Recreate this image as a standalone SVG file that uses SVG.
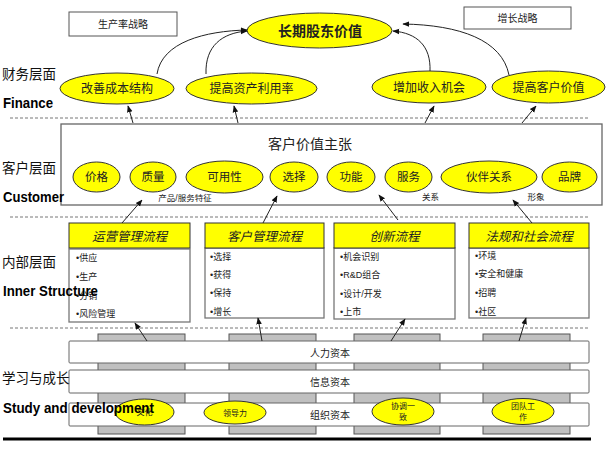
<svg xmlns="http://www.w3.org/2000/svg" width="606" height="455" viewBox="0 0 606 455">
<defs>
<marker id="ah" viewBox="0 0 10 10" refX="9" refY="5" markerWidth="7" markerHeight="7" orient="auto" markerUnits="userSpaceOnUse">
<path d="M0,1 L10,5 L0,9 z" fill="#111"/>
</marker>
<style>
text{font-family:"Liberation Serif","Noto Sans CJK SC",serif;fill:#222}
.sans{font-family:"Liberation Sans","Noto Sans CJK SC",sans-serif}
.en{font-family:"Liberation Sans",sans-serif;font-weight:bold;font-size:15px;fill:#000}
.side{font-size:13.5px;fill:#111}
.ell{fill:#ffff00;stroke:#333;stroke-width:1}
.et{font-size:12px;text-anchor:middle}
.ct{font-size:11.5px;text-anchor:middle}
.small{font-size:8.5px;text-anchor:middle}
.dash{stroke:#777;stroke-width:1;stroke-dasharray:3,2;fill:none}
.hdr{fill:#ffff00;stroke:#333;stroke-width:1}
.ht{font-size:12.5px;font-style:italic;text-anchor:middle}
.body{fill:#fff;stroke:#777;stroke-width:1.3}
.bt{font-size:9px}
.bar{fill:#fff;stroke:#666;stroke-width:1}
.peg{fill:#c0c0c0;stroke:#555;stroke-width:1}
.bl{font-size:10px;text-anchor:middle}
.tb{fill:#fff;stroke:#555;stroke-width:1}
.arr{fill:none;stroke:#222;stroke-width:1;marker-end:url(#ah)}
</style>
</defs>
<rect width="606" height="455" fill="#fff"/>

<g id="separators">
<line class="dash" x1="10" y1="118" x2="590" y2="118"/>
<line class="dash" x1="10" y1="217" x2="590" y2="217"/>
<line class="dash" x1="10" y1="328" x2="590" y2="328"/>
<line x1="3" y1="439" x2="591" y2="439" stroke="#000" stroke-width="3"/>
</g>

<g id="strategy-boxes">
<g id="productivity"><rect class="tb" x="69" y="12" width="108" height="24"/><text class="sans" x="123" y="28" font-size="10" text-anchor="middle">生产率战略</text></g>
<g id="growth"><rect class="tb" x="464" y="7" width="107" height="22"/><text class="sans" x="517.5" y="22" font-size="10" text-anchor="middle">增长战略</text></g>
</g>

<g id="finance">
<g id="shareholder"><ellipse class="ell" cx="319.5" cy="30.5" rx="72.5" ry="17.5"/><text x="320" y="35.5" font-size="14" font-weight="bold" text-anchor="middle">长期股东价值</text></g>
<g id="cost"><ellipse class="ell" cx="117" cy="88.5" rx="57" ry="15.5"/><text class="et" x="117" y="93">改善成本结构</text></g>
<g id="asset"><ellipse class="ell" cx="251.5" cy="88.5" rx="65.5" ry="15.5"/><text class="et" x="251.5" y="93">提高资产利用率</text></g>
<g id="revenue"><ellipse class="ell" cx="429" cy="87" rx="57" ry="16"/><text class="et" x="429" y="91.5">增加收入机会</text></g>
<g id="custvalue"><ellipse class="ell" cx="548.5" cy="87" rx="56.5" ry="16"/><text class="et" x="548.5" y="91.5">提高客户价值</text></g>
</g>

<g id="customer">
<rect fill="#fff" stroke="#666" stroke-width="1.3" x="61" y="124" width="541" height="81"/>
<text x="310" y="149" font-size="14" text-anchor="middle">客户价值主张</text>
<g id="c-price"><ellipse class="ell" cx="96.5" cy="177" rx="23.5" ry="15"/><text class="ct" x="96.5" y="181">价格</text></g>
<g id="c-quality"><ellipse class="ell" cx="153" cy="177" rx="23" ry="15"/><text class="ct" x="153" y="181">质量</text></g>
<g id="c-avail"><ellipse class="ell" cx="224.5" cy="177" rx="38.5" ry="16"/><text class="ct" x="224.5" y="181">可用性</text></g>
<g id="c-choice"><ellipse class="ell" cx="294" cy="177" rx="24" ry="15"/><text class="ct" x="294" y="181">选择</text></g>
<g id="c-func"><ellipse class="ell" cx="351" cy="177" rx="24" ry="15"/><text class="ct" x="351" y="181">功能</text></g>
<g id="c-service"><ellipse class="ell" cx="408.5" cy="177" rx="23.5" ry="15"/><text class="ct" x="408.5" y="181">服务</text></g>
<g id="c-partner"><ellipse class="ell" cx="489" cy="177" rx="48" ry="16"/><text class="ct" x="489" y="181">伙伴关系</text></g>
<g id="c-brand"><ellipse class="ell" cx="569.5" cy="177" rx="27.5" ry="15"/><text class="ct" x="569.5" y="181">品牌</text></g>
<text class="sans small" x="185" y="201">产品/服务特征</text>
<text class="sans small" x="430.5" y="200">关系</text>
<text class="sans small" x="536" y="200">形象</text>
</g>

<g id="processes">
<g id="p-ops">
<rect class="body" x="69" y="249" width="121" height="73"/>
<rect class="hdr" x="69" y="223" width="121" height="25"/>
<text class="ht" x="129.5" y="240.5">运营管理流程</text>
<text class="sans bt" x="76" y="261">•供应</text>
<text class="sans bt" x="76" y="280">•生产</text>
<text class="sans bt" x="76" y="299">•分销</text>
<text class="sans bt" x="76" y="317">•风险管理</text>
</g>
<g id="p-cust">
<rect class="body" x="205" y="248" width="119" height="70"/>
<rect class="hdr" x="205" y="223" width="119" height="25"/>
<text class="ht" x="264.5" y="240.5">客户管理流程</text>
<text class="sans bt" x="210" y="260">•选择</text>
<text class="sans bt" x="210" y="278">•获得</text>
<text class="sans bt" x="210" y="296">•保持</text>
<text class="sans bt" x="210" y="315">•增长</text>
</g>
<g id="p-innov">
<rect class="body" x="334" y="248" width="121" height="71"/>
<rect class="hdr" x="334" y="223" width="121" height="25"/>
<text class="ht" x="394.5" y="240.5">创新流程</text>
<text class="sans bt" x="340" y="260">•机会识别</text>
<text class="sans bt" x="340" y="278">•R&amp;D组合</text>
<text class="sans bt" x="340" y="297">•设计/开发</text>
<text class="sans bt" x="340" y="315">•上市</text>
</g>
<g id="p-reg">
<rect class="body" x="469" y="248" width="120" height="70"/>
<rect class="hdr" x="469" y="223" width="120" height="25"/>
<text class="ht" x="529" y="240.5">法规和社会流程</text>
<text class="sans bt" x="475" y="259">•环境</text>
<text class="sans bt" x="475" y="277">•安全和健康</text>
<text class="sans bt" x="475" y="296">•招聘</text>
<text class="sans bt" x="475" y="315">•社区</text>
</g>
</g>

<g id="learning">
<rect class="peg" x="98" y="334" width="87" height="100"/>
<rect class="peg" x="229" y="334" width="87" height="100"/>
<rect class="peg" x="354" y="334" width="86" height="100"/>
<rect class="peg" x="483" y="334" width="87" height="100"/>
<g id="human"><rect class="bar" x="69" y="341" width="520" height="22" rx="1"/><text class="sans bl" x="330" y="356.5">人力资本</text></g>
<g id="info"><rect class="bar" x="69" y="370" width="520" height="23" rx="1"/><text class="sans bl" x="330" y="385.5">信息资本</text></g>
<g id="org"><rect class="bar" x="69" y="403" width="520" height="23" rx="1"/><text class="sans bl" x="330" y="418.5">组织资本</text></g>
<g id="culture"><ellipse class="ell" cx="144.5" cy="412" rx="29.5" ry="13"/><text class="sans" x="144.5" y="415" font-size="8" text-anchor="middle">文化</text></g>
<g id="leader"><ellipse class="ell" cx="235" cy="412.5" rx="31" ry="11.5"/><text class="sans" x="235" y="415.5" font-size="8" text-anchor="middle">领导力</text></g>
<g id="align"><ellipse class="ell" cx="403" cy="411.5" rx="31" ry="13.5"/><text class="sans" x="403" y="409" font-size="8" text-anchor="middle">协调一</text><text class="sans" x="403" y="420" font-size="8" text-anchor="middle">致</text></g>
<g id="team"><ellipse class="ell" cx="523" cy="411.5" rx="31" ry="13"/><text class="sans" x="523" y="409" font-size="8" text-anchor="middle">团队工</text><text class="sans" x="523" y="420" font-size="8" text-anchor="middle">作</text></g>
</g>

<g id="connectors">
<path class="arr" d="M157,74 C162,42 205,31 247,30"/>
<path class="arr" d="M206,74 C205,46 222,33 247,31"/>
<path class="arr" d="M430,71 C431,46 417,33 393,31"/>
<path class="arr" d="M509,75 C502,40 460,25 403,24"/>
<path class="arr" d="M133,123 L128,106"/>
<path class="arr" d="M238,123 L234,106"/>
<path class="arr" d="M425,123 L434,106"/>
<path class="arr" d="M522,123 L536,106"/>
<path class="arr" d="M122,223 L142,200"/>
<path class="arr" d="M263,223 L277,196"/>
<path class="arr" d="M398,220 L379,195"/>
<path class="arr" d="M532,223 L513,200"/>
<path class="arr" d="M147,341 L135,323"/>
<path class="arr" d="M262,341 L258,318"/>
<path class="arr" d="M391,341 L405,319"/>
<path class="arr" d="M519,341 L526,318"/>
</g>

<g id="layer-labels">
<text class="side" x="2" y="79">财务层面</text>
<text class="en" x="3" y="108" textLength="50" lengthAdjust="spacingAndGlyphs">Finance</text>
<text class="side" x="2" y="173">客户层面</text>
<text class="en" x="3" y="202" textLength="61" lengthAdjust="spacingAndGlyphs">Customer</text>
<text class="side" x="2" y="267">内部层面</text>
<text class="en" x="3" y="296" textLength="95" lengthAdjust="spacingAndGlyphs">Inner Structure</text>
<text class="side" x="2" y="383">学习与成长</text>
<text class="en" x="3" y="413" textLength="151" lengthAdjust="spacingAndGlyphs">Study and development</text>
</g>
</svg>
